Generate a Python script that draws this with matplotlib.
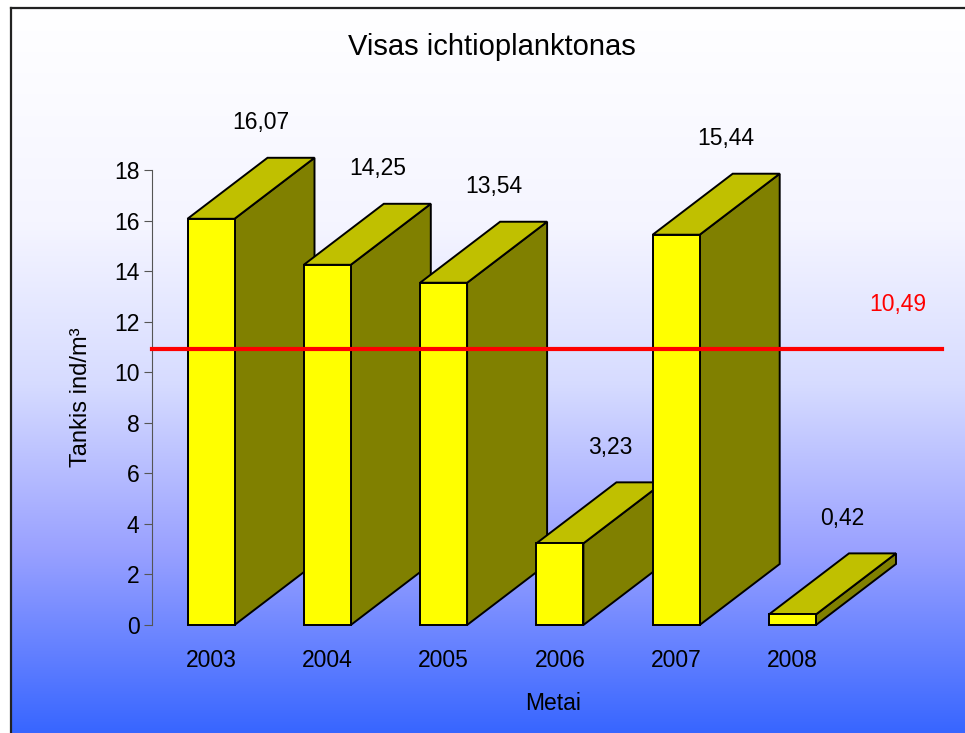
import numpy as np
import matplotlib.pyplot as plt
from matplotlib.patches import Polygon
from matplotlib.lines import Line2D
from matplotlib.colors import LinearSegmentedColormap

plt.rcParams['font.family'] = ['Liberation Sans', 'DejaVu Sans']

# data
years = ['2003', '2004', '2005', '2006', '2007', '2008']
values = [16.07, 14.25, 13.54, 3.23, 15.44, 0.42]
labels = ['16,07', '14,25', '13,54', '3,23', '15,44', '0,42']
avg_label = '10,49'
yticks = [0, 2, 4, 6, 8, 10, 12, 14, 16, 18]

W, H = 965, 733
fig = plt.figure(figsize=(W / 100, H / 100), dpi=100)
fig.patch.set_facecolor('white')

# gradient background (white -> blue)
bg = fig.add_axes([11 / W, 0, 1 - 11 / W, (H - 8) / H], zorder=0)
cmap = LinearSegmentedColormap.from_list('bg', [
    (0.0, (1, 1, 1)),
    (0.30, (0.96, 0.96, 1.0)),
    (0.52, (0.84, 0.86, 1.0)),
    (0.75, (0.60, 0.63, 1.0)),
    (1.0, (0.22, 0.40, 1.0)),
])
grad = np.linspace(0, 1, 256).reshape(-1, 1)
bg.imshow(grad, aspect='auto', cmap=cmap, extent=[0, 1, 0, 1], origin='upper')
bg.set_axis_off()

# border on top and left
fig.add_artist(Line2D([11 / W, 1], [(H - 8) / H] * 2, color='#222222', lw=1.6))
fig.add_artist(Line2D([11 / W] * 2, [0, (H - 8) / H], color='#222222', lw=1.6))

# main axes: y=0 at pixel 625, y=18 at pixel 170, axis at x=152
px_unit = (625 - 170) / 18
cat_px = 116.3
x0_px = 211
ax = fig.add_axes([152 / W, (H - 625) / H, (955 - 152) / W, (625 - 170) / H], zorder=1)
ax.set_facecolor('none')
ax.set_ylim(0, 18)
ax.set_xlim((152 - x0_px) / cat_px, (955 - x0_px) / cat_px)

w = 47 / cat_px
dx = 80 / cat_px
dy = 61 / px_unit

for i, v in enumerate(values):
    l, r = i - w / 2, i + w / 2
    side = [(r, 0), (r + dx, dy), (r + dx, v + dy), (r, v)]
    top = [(l, v), (r, v), (r + dx, v + dy), (l + dx, v + dy)]
    front = [(l, 0), (r, 0), (r, v), (l, v)]
    for pts, col in [(side, '#808000'), (top, '#c0c000'), (front, '#ffff00')]:
        ax.add_patch(Polygon(pts, closed=True, facecolor=col, edgecolor='black',
                             lw=1.4, joinstyle='miter', clip_on=False, zorder=2 + i))
    ax.annotate(labels[i], (i, v), xytext=(36, 69), textcoords='offset points',
                ha='center', va='center', fontsize=16.5, zorder=20)

# average line
avg = np.mean(values)
line_y = avg + 0.18 * dy
ax.axhline(line_y, xmin=0, xmax=(942 - 152) / (955 - 152), color='#ff0000',
           lw=3, zorder=15, clip_on=False)
ax.annotate(avg_label, (1, line_y), xycoords=('axes fraction', 'data'),
            xytext=(-41, 32), textcoords='offset points', ha='center', va='center',
            fontsize=16.5, color='#ff0000')

# axes styling
for s in ['top', 'right', 'bottom']:
    ax.spines[s].set_visible(False)
ax.spines['left'].set_color('#555555')
ax.spines['left'].set_bounds(0, 18)
ax.set_yticks(yticks)
ax.set_yticklabels([str(t) for t in yticks], fontsize=16.5)
ax.tick_params(axis='y', length=6, color='#555555', pad=3)
ax.set_xticks(range(len(years)))
ax.set_xticklabels(years, fontsize=16.5)
ax.tick_params(axis='x', length=0, pad=17)
ax.set_xlabel('Metai', fontsize=16.5, labelpad=15)
ax.set_ylabel('Tankis ind/m³', fontsize=17, labelpad=16)

fig.text(492 / W, 1 - 47 / H, 'Visas ichtioplanktonas', fontsize=21,
         ha='center', va='center')

fig.savefig('out.png', dpi=100)
